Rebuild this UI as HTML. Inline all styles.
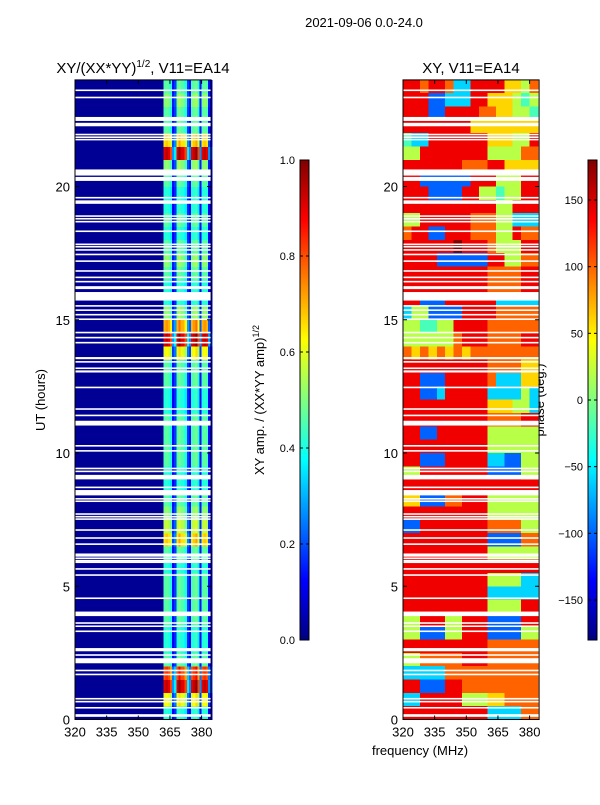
<!DOCTYPE html>
<html><head><meta charset="utf-8"><style>
body{margin:0;background:#fff;}
svg{font-family:"Liberation Sans",sans-serif;}
</style></head><body>
<svg id="c" width="600" height="800" xmlns="http://www.w3.org/2000/svg">
<text x="364" y="27" font-size="13" text-anchor="middle">2021-09-06 0.0-24.0</text>
<text x="143" y="73" font-size="15" text-anchor="middle">XY/(XX*YY)<tspan font-size="10" dy="-6">1/2</tspan><tspan dy="6">, V11=EA14</tspan></text>
<text x="471" y="73" font-size="15" text-anchor="middle">XY, V11=EA14</text>
<text x="45" y="400" font-size="13" text-anchor="middle" transform="rotate(-90 45 400)">UT (hours)</text>
<text x="420" y="755" font-size="13" text-anchor="middle">frequency (MHz)</text>
<text x="264" y="400" font-size="13" text-anchor="middle" transform="rotate(-90 264 400)">XY amp. / (XX*YY amp)<tspan font-size="9" dy="-5">1/2</tspan></text>
<text x="544" y="400" font-size="13" text-anchor="middle" transform="rotate(-90 544 400)">phase (deg.)</text>
<g id="L"></g>
<g id="R"></g>
<g id="A"></g>
</svg>
<script>
const hourTicks=[0,5,10,15,20];
const freqTicks=[320,335,350,365,380];
const ampTicks=[0.0,0.2,0.4,0.6,0.8,1.0];
const phaseTicks=[-150,-100,-50,0,50,100,150];
const ampBase=0.02;
const stripFreqs=[362,363,364,365,366,367,368,369,370,371,372,373,374,375,376,377,378,379,380,381,382,383,384];
const stripProfile=[0.5,0.52,0.5,0.45,0.15,0.2,0.5,0.55,0.5,0.5,0.45,0.2,0.15,0.5,0.52,0.55,0.45,0.15,0.5,0.52,0.5,0.15,0.1];
const ampRowLevel=[0.8,1.2,1.8,1.6,0.9,0.8,0.8,0.9,0.9,0.9,0.9,0.8,0.9,1.3,1.1,1.0,0.9,0.8,0.8,0.9,0.9,0.9,0.9,0.8,0.8,0.9,0.9,1.2,1.8,1.4,1.0,0.8,0.8,0.9,1.0,0.9,0.8,0.9,0.8,0.8,0.9,1.0,1.8,1.3,0.9,0.9,1.0,0.9];
// phase rows from 24h (top) to 0h, 16 cols of 4 MHz; digit 0..9 -> -180..180
const phaseRows=["8878873388886657","8882233388666545","8882288887766554","8888888866666666","4338888888666558","5588888888555577","8888888777886666","8822222288855588","8882222885545588","8888888888855888","5588888877755333","7882288877755877","8888889888755588","8888222222885577","8888888888777788","8888888888777788","8822288888833333","3552222888877777","5544558888777777","5555557888777788","7676767677777777","8888888888777766","8822288888733366","8822388888333353","8888888888666553","8888888888777788","8822888888555555","8888888888555555","8822288888332255","5588888888222255","8888888888888888","6622277888555555","8888888888555555","2288888888777755","8888888888222277","8888888888555555","8888888888888888","8888888888555533","8888888888333333","8888888888555588","5588855888222288","5522255888222255","8888888888777777","5577777888777777","3333377777777777","8822288777777777","3388888555667777","8888888888333377"];
const flags=[[23.58,23.64],[23.31,23.37],[22.46,22.61],[22.26,22.39],[21.92,21.98],[21.82,21.88],[21.73,21.79],[20.41,20.64],[20.21,20.36],[19.55,19.61],[19.35,19.48],[18.86,18.92],[18.76,18.82],[18.65,18.71],[18.29,18.35],[17.8,17.86],[17.71,17.77],[17.59,17.65],[17.42,17.48],[17.17,17.23],[16.8,16.86],[16.56,16.62],[16.4,16.46],[16.2,16.26],[16.15,16.21],[15.72,16.04],[15.49,15.55],[15.33,15.39],[15.16,15.22],[14.99,15.05],[14.49,14.55],[14.3,14.36],[14.11,14.17],[13.52,13.6],[13.39,13.45],[13.15,13.21],[13.02,13.1],[12.43,12.49],[11.62,11.68],[11.38,11.44],[11.03,11.21],[10.24,10.3],[10.05,10.11],[9.39,9.45],[9.28,9.34],[9.01,9.18],[8.68,8.74],[8.41,8.61],[8.25,8.31],[8.16,8.22],[7.68,7.74],[7.58,7.64],[7.49,7.55],[7.08,7.14],[6.78,6.84],[6.55,6.61],[6.11,6.23],[6.02,6.08],[5.93,5.99],[5.87,5.93],[5.62,5.68],[5.39,5.45],[4.52,4.58],[3.88,4.05],[3.59,3.65],[3.47,3.53],[3.28,3.34],[2.56,2.68],[2.39,2.45],[2.11,2.3],[1.81,1.87],[1.66,1.72],[0.75,0.81],[0.64,0.7],[0.41,0.47],[0.1,0.2]];

function jet(v){v=Math.max(0,Math.min(1,v));
 const f=x=>Math.round(255*Math.max(0,Math.min(1,x)));
 return `rgb(${f(Math.min(4*v-1.5,-4*v+4.5))},${f(Math.min(4*v-0.5,-4*v+3.5))},${f(Math.min(4*v+0.5,-4*v+2.5))})`;}
const NS="http://www.w3.org/2000/svg";
const y0=719.5, ys=26.65, fMin=320, fMax=384.5, xs=2.11;
const yOf=h=>y0-h*ys;
const xL=f=>75+(f-fMin)*xs, xR=f=>403+(f-fMin)*xs;
function el(tag,attrs,parent){const e=document.createElementNS(NS,tag);for(const k in attrs)e.setAttribute(k,attrs[k]);parent.appendChild(e);return e;}
const L=document.getElementById('L'),R=document.getElementById('R'),A=document.getElementById('A');
const svg=document.getElementById('c');
let bg=el('rect',{x:xL(fMin),y:yOf(24),width:xL(fMax)-xL(fMin),height:yOf(0)-yOf(24),fill:jet(ampBase),'shape-rendering':'crispEdges'},L);


ampRowLevel.forEach((lv,r)=>{
 stripFreqs.forEach((f,c)=>{
  const v=stripProfile[c]*lv;
  const rc=el('rect',{x:xL(f),y:yOf((r+1)*0.5),width:xL(f+1)-xL(f)+0.3,height:yOf(r*0.5)-yOf((r+1)*0.5)+0.3,fill:jet(v),'shape-rendering':'crispEdges'},L);
  
  
 });
});
phaseRows.forEach((row,i)=>{
 const hTop=24-i*0.5;
 for(let c=0;c<row.length;c++){
  const d=+row[c];const ph=-180+d*40;
  const f=fMin+c*4;
  const rc=el('rect',{x:xR(f),y:yOf(hTop),width:Math.min(xR(f+4),xR(fMax))-xR(f)+0.3,height:yOf(hTop-0.5)-yOf(hTop)+0.3,fill:jet((ph+180)/360),'shape-rendering':'crispEdges'},R);
  
  
 }
});
[[L,xL],[R,xR]].forEach(([g,xf])=>{
 flags.forEach(fl=>{
  const rc=el('rect',{x:xf(fMin),y:yOf(fl[1]),width:xf(fMax)-xf(fMin),height:Math.max(1.5,yOf(fl[0])-yOf(fl[1])),fill:'#fff'},g);
  
  
 });
});
[[xL,'left'],[xR,'right']].forEach(([xf,nm])=>{
 const fr=el('rect',{x:xf(fMin),y:yOf(24),width:xf(fMax)-xf(fMin),height:yOf(0)-yOf(24),fill:'none',stroke:'#000','stroke-width':1},A);
 
 
 hourTicks.forEach(h=>{
  el('line',{x1:xf(fMin),x2:xf(fMin)+4,y1:yOf(h),y2:yOf(h),stroke:'#000'},A);
  el('line',{x1:xf(fMax),x2:xf(fMax)-4,y1:yOf(h),y2:yOf(h),stroke:'#000'},A);
  const t=el('text',{x:xf(fMin)-5,y:yOf(h)+5,'font-size':13,'text-anchor':'end'},A);
  t.textContent=h;
  
  
 });
 freqTicks.forEach(f=>{
  el('line',{x1:xf(f),x2:xf(f),y1:yOf(0),y2:yOf(0)-4,stroke:'#000'},A);
  el('line',{x1:xf(f),x2:xf(f),y1:yOf(24),y2:yOf(24)+4,stroke:'#000'},A);
  const t=el('text',{x:xf(f),y:yOf(0)+17,'font-size':13,'text-anchor':'middle'},A);
  t.textContent=f;
  
  
 });
});
function colorbar(x,id,ticks,lo,hi,fmt,nm){
 const top=160,bot=640,w=9;
 const defs=el('defs',{},svg);
 const lg=el('linearGradient',{id:id,x1:0,y1:1,x2:0,y2:0},defs);
 for(let i=0;i<=16;i++){el('stop',{offset:i/16,'stop-color':jet(i/16)},lg);}
 const r=el('rect',{x:x,y:top,width:w,height:bot-top,fill:`url(#${id})`,stroke:'#000','stroke-width':1},A);
 
 
 ticks.forEach(v=>{
  const y=bot-(v-lo)/(hi-lo)*(bot-top);
  el('line',{x1:x,x2:x+3,y1:y,y2:y,stroke:'#000'},A);
  el('line',{x1:x+w,x2:x+w-3,y1:y,y2:y,stroke:'#000'},A);
  const t=el('text',{x:x-5,y:y+4,'font-size':11,'text-anchor':'end'},A);
  t.textContent=fmt(v);
  
  
 });
}
colorbar(300,'gA',ampTicks,0,1,v=>v.toFixed(1),'amp-colorbar');
colorbar(588,'gP',phaseTicks,-180,180,v=>v<0?'\u2212'+(-v):''+v,'phase-colorbar');
</script>
</body></html>
